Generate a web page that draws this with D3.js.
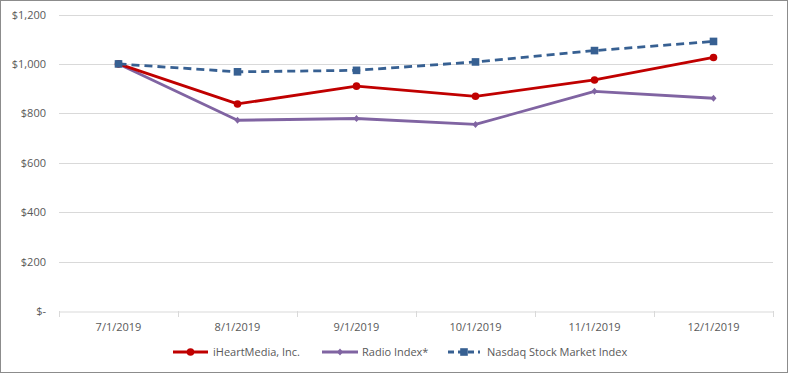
<!DOCTYPE html>
<html><head><meta charset="utf-8">
<script src="https://cdn.jsdelivr.net/npm/d3@7"></script>
<style>body{margin:0;background:#fff;}svg{display:block;font-family:"Open Sans","Liberation Sans",sans-serif;}</style>
</head><body><svg id="c" width="788" height="373"></svg>
<script>
const categories = ["7/1/2019","8/1/2019","9/1/2019","10/1/2019","11/1/2019","12/1/2019"];
const iheart = [1000, 838, 910, 869, 935, 1026];
const radio = [1000, 772, 779, 755, 889, 861];
const nasdaq = [1000, 968, 974, 1008, 1054, 1091];
const yTicks = [0, 200, 400, 600, 800, 1000, 1200];
const seriesNames = ["iHeartMedia, Inc.", "Radio Index*", "Nasdaq Stock Market Index"];

const svg = d3.select("#c");
svg.append("rect").attr("x",0.5).attr("y",0.5).attr("width",787).attr("height",372).attr("fill","#fff").attr("stroke","#8c8c8c");

const x = d3.scaleBand().domain(categories).range([59, 773]);
const y = d3.scaleLinear().domain([0, 1200]).range([311, 14.5]);

const fmt = v => v === 0 ? "$-" : "$" + d3.format(",")(v);

// gridlines
svg.append("g").selectAll("line").data(yTicks.filter(d=>d>0)).join("line")
  .attr("x1",59).attr("x2",773).attr("y1",d=>Math.round(y(d))+0.5).attr("y2",d=>Math.round(y(d))+0.5)
  .attr("stroke","#d9d9d9").attr("stroke-width",1);

// y labels
svg.append("g").selectAll("text").data(yTicks).join("text")
  .attr("x",46).attr("y",d=>y(d)+4).attr("text-anchor","end")
  .attr("font-size","11px").attr("fill","#595959").text(fmt);

// x axis
const xa = svg.append("g").attr("transform","translate(0,"+(Math.round(y(0))+0.5)+")")
  .call(d3.axisBottom(x).tickSize(0).tickPadding(12));
xa.select(".domain").attr("stroke","#d9d9d9");
xa.selectAll("text").attr("font-size","11px").attr("fill","#595959").attr("font-family","'Open Sans','Liberation Sans',sans-serif");
svg.append("g").selectAll("line").data(d3.range(categories.length+1)).join("line")
  .attr("x1",i=>Math.round(59 + i*x.step())+0.5).attr("x2",i=>Math.round(59 + i*x.step())+0.5)
  .attr("y1",Math.round(y(0))).attr("y2",Math.round(y(0))+6).attr("stroke","#d9d9d9");

const cx = d => x(d) + x.bandwidth()/2;
const line = d3.line().x((d,i)=>cx(categories[i])).y(d=>y(d));

const series = [
  {name: seriesNames[0], data: iheart, color:"#c00000", dash:null, marker:"circle"},
  {name: seriesNames[1], data: radio, color:"#8064a2", dash:null, marker:"diamond"},
  {name: seriesNames[2], data: nasdaq, color:"#376092", dash:"8,5", marker:"square"}
];

function drawMarker(g, type, px, py, color) {
  if (type === "circle") g.append("circle").attr("cx",px).attr("cy",py).attr("r",3.8).attr("fill",color);
  else if (type === "square") g.append("rect").attr("x",px-3.8).attr("y",py-3.8).attr("width",7.6).attr("height",7.6).attr("fill",color);
  else g.append("path").attr("d",`M${px},${py-3.5}L${px+3},${py}L${px},${py+3.5}L${px-3},${py}Z`).attr("fill",color);
}

// draw order: nasdaq behind? draw radio, iheart, nasdaq
[series[1], series[0], series[2]].forEach(s => {
  const g = svg.append("g");
  g.append("path").attr("d", line(s.data)).attr("fill","none").attr("stroke",s.color)
    .attr("stroke-width",2.8).attr("stroke-dasharray",s.dash).attr("stroke-linejoin","round");
  s.data.forEach((v,i)=>drawMarker(g, s.marker, cx(categories[i]), y(v), s.color));
});

// legend
const legend = [
  {s: series[0], x1:173, x2:208, tx:213},
  {s: series[1], x1:322, x2:358, tx:362},
  {s: series[2], x1:448, x2:480, tx:487}
];
const ly = 352;
legend.forEach(l => {
  const g = svg.append("g");
  g.append("line").attr("x1",l.x1).attr("x2",l.x2).attr("y1",ly).attr("y2",ly)
    .attr("stroke",l.s.color).attr("stroke-width",2.8).attr("stroke-dasharray", l.s.dash ? "6,4" : null);
  drawMarker(g, l.s.marker, (l.x1+l.x2)/2, ly, l.s.color);
  g.append("text").attr("x",l.tx).attr("y",ly+4).attr("font-size","11px").attr("fill","#595959").text(l.s.name);
});
</script></body></html>
